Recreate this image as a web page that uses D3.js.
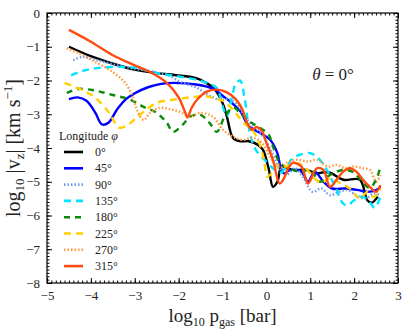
<!DOCTYPE html>
<meta charset="utf-8" />
<style>
  body { margin: 0; background: #fff; }
  svg text { font-family: "Liberation Serif", "DejaVu Serif", serif; fill: #222; }
  .axis path, .axis line { stroke: #000; }
</style>
<svg width="407" height="333"></svg>
<script src="https://cdn.jsdelivr.net/npm/d3@7"></script>
<script>
  // longitudes shown in the legend
  var longitudes = ["0°", "45°", "90°", "135°", "180°", "225°", "270°", "315°"];
  var colors = ["#000000", "#0000ff", "#6f9cf0", "#00e5ff", "#0a8a0a", "#ffd000", "#ff9a3c", "#ff4a10"];
  var dashes = [null, null, "1.5,2", "7,5", "6,5", "7,5", "1.5,2", null];

  var xTicks = [-5, -4, -3, -2, -1, 0, 1, 2, 3];
  var yTicks = [0, -1, -2, -3, -4, -5, -6, -7, -8];

  // log10 p_gas , log10 |v_z| for each longitude
  var phi0 = [[-4.5,-1.0],[-4,-1.28],[-3.5,-1.5],[-3,-1.68],[-2.5,-1.78],[-2,-1.85],[-1.6,-1.93],[-1.4,-2.05],[-1.2,-2.23],[-1.0,-2.66],[-0.9,-3.07],[-0.76,-3.7],[-0.6,-3.8],[-0.4,-3.8],[-0.2,-3.9],[-0.08,-4.05],[0.05,-4.6],[0.15,-5.15],[0.25,-5.0],[0.35,-4.55],[0.6,-4.65],[0.9,-4.65],[1.15,-4.75],[1.3,-4.72],[1.45,-4.73],[1.75,-4.94],[2.13,-4.94],[2.3,-5.55],[2.4,-5.62],[2.54,-5.44]];
  var phi45 = [[-4.5,-2.55],[-4.3,-2.5],[-4.1,-2.6],[-3.9,-2.95],[-3.75,-3.3],[-3.6,-3.25],[-3.4,-2.85],[-3.2,-2.55],[-3.0,-2.38],[-2.7,-2.2],[-2.4,-2.1],[-2.1,-2.07],[-1.6,-2.12],[-1.2,-2.25],[-1.0,-2.45],[-0.8,-2.65],[-0.6,-2.9],[-0.4,-3.35],[-0.15,-3.55],[0.08,-3.75],[0.25,-4.15],[0.32,-4.55],[0.4,-4.75],[0.55,-4.65],[0.8,-4.7],[0.95,-5.0],[1.1,-4.7],[1.3,-5.0],[1.5,-5.2],[1.8,-5.2],[2.1,-5.25],[2.3,-5.3],[2.5,-5.25],[2.6,-5.15]];
  var phi90 = [[-4.4,-1.4],[-4.2,-1.3],[-3.9,-1.38],[-3.5,-1.52],[-3.0,-1.65],[-2.5,-1.76],[-2.2,-1.87],[-1.97,-2.04],[-1.58,-2.22],[-1.3,-2.45],[-1.06,-2.57],[-0.85,-2.55],[-0.65,-2.75],[-0.45,-3.15],[-0.25,-3.4],[-0.05,-3.7],[0.15,-4.2],[0.3,-4.6],[0.45,-4.8],[0.65,-4.6],[0.85,-4.9],[1.05,-5.3],[1.25,-5.2],[1.45,-5.4],[1.65,-5.3],[1.85,-5.25],[2.05,-5.4],[2.25,-5.5],[2.45,-5.35],[2.6,-5.4]];
  var phi135 = [[-4.45,-1.85],[-4.2,-1.72],[-3.9,-1.64],[-3.5,-1.6],[-3.0,-1.62],[-2.5,-1.78],[-2.0,-1.88],[-1.58,-1.98],[-1.3,-2.1],[-1.13,-2.22],[-1.0,-2.75],[-0.9,-3.05],[-0.8,-2.6],[-0.7,-2.1],[-0.6,-2.0],[-0.5,-2.5],[-0.4,-3.4],[-0.3,-3.9],[-0.19,-4.15],[0.0,-4.4],[0.15,-4.6],[0.31,-4.73],[0.46,-4.55],[0.6,-4.3],[0.76,-4.2],[1.0,-4.15],[1.22,-4.35],[1.4,-4.7],[1.6,-5.24],[1.75,-5.65],[1.85,-5.7],[2.0,-5.55],[2.2,-5.44],[2.35,-5.6],[2.47,-5.77],[2.6,-5.44]];
  var phi180 = [[-4.55,-2.37],[-4.3,-2.25],[-3.9,-2.3],[-3.5,-2.43],[-3.1,-2.57],[-2.8,-2.78],[-2.5,-2.96],[-2.27,-3.25],[-2.13,-3.52],[-1.9,-3.3],[-1.74,-3.07],[-1.5,-3.02],[-1.3,-3.25],[-1.13,-3.52],[-0.95,-3.07],[-0.75,-2.8],[-0.6,-2.96],[-0.4,-3.2],[-0.19,-3.37],[0.05,-3.6],[0.15,-3.96],[0.31,-4.44],[0.5,-4.6],[0.76,-4.7],[1.0,-4.65],[1.22,-5.0],[1.45,-4.8],[1.74,-4.65],[2.0,-4.73],[2.2,-5.03],[2.36,-5.18],[2.5,-4.94],[2.6,-4.55]];
  var phi225 = [[-4.6,-2.07],[-4.35,-2.2],[-4.1,-2.35],[-3.9,-2.51],[-3.6,-2.93],[-3.45,-3.25],[-3.35,-3.4],[-3.2,-3.35],[-3.0,-3.15],[-2.8,-2.93],[-2.5,-2.66],[-2.13,-2.57],[-1.74,-2.5],[-1.36,-2.47],[-1.13,-2.55],[-0.99,-2.6],[-0.76,-2.87],[-0.54,-3.22],[-0.3,-3.5],[-0.15,-3.9],[-0.05,-4.4],[0.02,-4.85],[0.12,-4.75],[0.25,-4.5],[0.46,-4.55],[0.7,-4.45],[0.9,-4.6],[1.1,-4.9],[1.25,-5.03],[1.45,-4.9],[1.67,-5.03],[1.9,-5.2],[2.13,-5.5],[2.3,-5.3],[2.45,-5.45],[2.6,-5.2]];
  var phi270 = [[-4.55,-1.05],[-4.3,-1.18],[-3.9,-1.45],[-3.5,-1.75],[-3.22,-2.07],[-3.04,-2.5],[-2.95,-2.87],[-2.8,-3.17],[-2.65,-2.96],[-2.43,-2.81],[-2.2,-2.85],[-1.97,-2.93],[-1.74,-3.07],[-1.51,-2.96],[-1.22,-3.07],[-0.99,-3.46],[-0.76,-3.67],[-0.54,-3.76],[-0.3,-3.7],[-0.1,-3.85],[0.1,-4.3],[0.3,-4.6],[0.46,-4.44],[0.7,-4.35],[0.95,-4.4],[1.15,-4.35],[1.4,-4.55],[1.6,-4.5],[1.8,-4.6],[2.0,-4.55],[2.2,-4.6],[2.36,-4.65],[2.5,-5.0],[2.6,-4.8]];
  var phi315 = [[-4.5,-0.5],[-4,-0.85],[-3.5,-1.25],[-3.0,-1.55],[-2.65,-1.75],[-2.27,-2.07],[-2.0,-2.5],[-1.85,-2.95],[-1.8,-3.1],[-1.7,-2.8],[-1.58,-2.57],[-1.36,-2.33],[-1.13,-2.27],[-0.9,-2.35],[-0.7,-2.55],[-0.55,-2.85],[-0.44,-3.25],[-0.33,-3.46],[-0.22,-3.38],[-0.1,-3.5],[0.0,-3.85],[0.15,-4.35],[0.3,-5.05],[0.38,-4.95],[0.5,-4.6],[0.6,-4.44],[0.8,-4.55],[0.95,-5.05],[1.15,-4.6],[1.3,-4.65],[1.45,-5.15],[1.6,-4.94],[1.75,-4.7],[1.9,-4.6],[2.05,-4.7],[2.2,-4.94],[2.36,-5.15],[2.5,-5.3],[2.6,-5.1]];

  var series = [phi0, phi45, phi90, phi135, phi180, phi225, phi270, phi315];

  var serif = "'Liberation Serif', 'DejaVu Serif', serif";

  var svg = d3.select("svg"),
    margin = { left: 47, right: 9, top: 13, bottom: 50 },
    width = +svg.attr("width") - margin.left - margin.right,
    height = +svg.attr("height") - margin.top - margin.bottom;

  var x = d3.scaleLinear().domain([-5, 3]).range([0, width]);
  var y = d3.scaleLinear().domain([-8, 0]).range([height, 0]);

  var g = svg.append("g").attr("transform", "translate(" + margin.left + "," + margin.top + ")");

  // minor tick values
  var xMinor = d3.range(-50, 31).map(function (d) { return d / 10; });
  var yMinor = d3.range(-80, 1).map(function (d) { return d / 10; });

  function minorTicks(gen, vals, tr) {
    var a = g.append("g").attr("class", "axis").attr("transform", tr);
    a.call(gen.tickValues(vals).tickSize(-2.5).tickFormat(""));
    a.select(".domain").remove();
  }
  // inward ticks on all four sides
  minorTicks(d3.axisBottom(x), xMinor, "translate(0," + height + ")");
  minorTicks(d3.axisTop(x), xMinor, "translate(0,0)");
  minorTicks(d3.axisLeft(y), yMinor, "translate(0,0)");
  minorTicks(d3.axisRight(y), yMinor, "translate(" + width + ",0)");

  var bx = g.append("g").attr("class", "axis").attr("transform", "translate(0," + height + ")")
    .call(d3.axisBottom(x).tickValues(xTicks).tickSize(-5).tickPadding(8).tickFormat(d3.format("d")));
  bx.attr("font-family", serif).selectAll("text").attr("font-size", 13).attr("fill", "#222");
  g.append("g").attr("class", "axis").call(d3.axisTop(x).tickValues(xTicks).tickSize(-5).tickFormat(""));
  var ly = g.append("g").attr("class", "axis")
    .call(d3.axisLeft(y).tickValues(yTicks).tickSize(-5).tickPadding(7).tickFormat(d3.format("d")));
  ly.attr("font-family", serif).selectAll("text").attr("font-size", 13).attr("fill", "#222");
  g.append("g").attr("class", "axis").attr("transform", "translate(" + width + ",0)")
    .call(d3.axisRight(y).tickValues(yTicks).tickSize(-5).tickFormat(""));
  g.selectAll(".domain").remove();

  g.append("rect").attr("width", width).attr("height", height)
    .attr("fill", "none").attr("stroke", "#000").attr("stroke-width", 1.2);

  // curves
  var line = d3.line()
    .x(function (d) { return x(d[0]); })
    .y(function (d) { return y(d[1]); })
    .curve(d3.curveCatmullRom.alpha(0.5));

  g.append("defs").append("clipPath").attr("id", "clip")
    .append("rect").attr("width", width).attr("height", height);

  g.append("g").attr("clip-path", "url(#clip)")
    .selectAll("path")
    .data(series)
    .enter()
    .append("path")
    .attr("d", line)
    .attr("fill", "none")
    .attr("stroke", function (d, i) { return colors[i]; })
    .attr("stroke-width", 2.4)
    .attr("stroke-dasharray", function (d, i) { return dashes[i]; });

  // legend
  var leg = g.append("g").attr("transform", "translate(12,123)").attr("font-family", serif);
  leg.append("text").attr("x", 0).attr("y", 4).attr("font-size", 12)
    .html('Longitude <tspan font-style="italic">φ</tspan>');
  longitudes.forEach(function (l, i) {
    var yy = 16 + i * 16.3;
    leg.append("line").attr("x1", 5).attr("x2", 24).attr("y1", yy).attr("y2", yy)
      .attr("stroke", colors[i]).attr("stroke-width", 2.6)
      .attr("stroke-dasharray", dashes[i]);
    leg.append("text").attr("x", 36).attr("y", yy + 4).attr("font-size", 12).text(l);
  });

  // panel title
  g.append("text").attr("x", 286).attr("y", 67).attr("text-anchor", "middle").attr("font-size", 17)
    .html('<tspan font-style="italic">θ</tspan> = 0°');

  // axis titles
  svg.append("text").attr("x", margin.left + width / 2).attr("y", 322)
    .attr("text-anchor", "middle").attr("font-size", 19)
    .html('log<tspan font-size="12" dy="4">10</tspan><tspan dy="-4"> p</tspan><tspan font-size="12" dy="4">gas</tspan><tspan dy="-4"> [bar]</tspan>');

  svg.append("text").attr("transform", "translate(20," + (margin.top + height / 2) + ") rotate(-90)")
    .attr("text-anchor", "middle").attr("font-size", 20)
    .html('log<tspan font-size="13" dy="4">10</tspan><tspan dy="-4"> |v</tspan><tspan font-size="13" dy="4">z</tspan><tspan dy="-4">| [km s</tspan><tspan font-size="13" dy="-8">−1</tspan><tspan dy="8">]</tspan>');
</script>
